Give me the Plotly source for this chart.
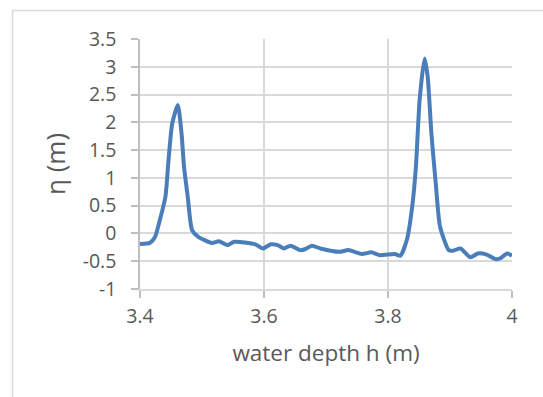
import plotly.graph_objects as go

depth_h = [3.400, 3.416, 3.424, 3.432, 3.441, 3.446, 3.452, 3.461, 3.467, 3.471,
           3.477, 3.484, 3.494, 3.516, 3.527, 3.541, 3.552, 3.586, 3.598, 3.611,
           3.622, 3.632, 3.643, 3.658, 3.667, 3.677, 3.691, 3.722, 3.736, 3.758,
           3.773, 3.786, 3.811, 3.820, 3.831, 3.839, 3.845, 3.851, 3.859, 3.864,
           3.870, 3.877, 3.884, 3.898, 3.905, 3.917, 3.933, 3.945, 3.959, 3.973,
           3.981, 3.992, 4.000]
eta = [-0.19, -0.17, -0.07, 0.24, 0.66, 1.32, 1.98, 2.31, 1.80, 1.20,
       0.66, 0.06, -0.06, -0.17, -0.14, -0.21, -0.15, -0.195, -0.27, -0.195,
       -0.21, -0.27, -0.22, -0.30, -0.28, -0.22, -0.27, -0.33, -0.30, -0.37,
       -0.34, -0.39, -0.37, -0.40, -0.09, 0.48, 1.20, 2.40, 3.15, 2.82,
       1.80, 0.90, 0.12, -0.30, -0.31, -0.27, -0.43, -0.36, -0.38, -0.46,
       -0.45, -0.36, -0.40]

x_ticks = [3.4, 3.6, 3.8, 4.0]
x_tick_labels = ["3.4", "3.6", "3.8", "4"]
y_ticks = [-1, -0.5, 0, 0.5, 1, 1.5, 2, 2.5, 3, 3.5]
y_tick_labels = ["-1", "-0.5", "0", "0.5", "1", "1.5", "2", "2.5", "3", "3.5"]

font_family = "'Open Sans', Lato, sans-serif"
grid = "#d9d9d9"
text_col = "#595959"

L, R, T, B = 140, 512, 39, 289
W, H = R - L, B - T

fig = go.Figure()
fig.add_trace(go.Scatter(
    x=depth_h, y=eta, mode="lines",
    line=dict(color="#4a7ebb", width=4, shape="spline", smoothing=0.6),
    showlegend=False, hoverinfo="skip",
))

fig.update_layout(
    width=543, height=397, autosize=False,
    margin=dict(l=L, r=543 - R, t=T, b=397 - B),
    paper_bgcolor="white", plot_bgcolor="white",
    font=dict(family=font_family, color=text_col),
    shapes=[dict(type="rect", xref="paper", yref="paper",
                 x0=(12.5 - L) / W, x1=(580 - L) / W,
                 y0=(B - 440) / H, y1=(B - 10.5) / H,
                 line=dict(color="#d9d9d9", width=1.5), fillcolor="rgba(0,0,0,0)",
                 layer="below")],
)
fig.update_xaxes(
    range=[3.4, 4.0], tickvals=x_ticks, ticktext=x_tick_labels,
    showgrid=True, gridcolor=grid, gridwidth=1.5,
    showline=True, linecolor=grid, linewidth=1.5,
    ticks="outside", ticklen=7, tickcolor="#bfbfbf", tickwidth=1.5,
    ticklabelstandoff=2,
    tickfont=dict(size=19.5, color=text_col), zeroline=False,
    title=dict(text="water depth h (m)", font=dict(size=22.5, color=text_col), standoff=17),
)
fig.update_yaxes(
    range=[-1, 3.5], tickvals=y_ticks, ticktext=y_tick_labels,
    showgrid=True, gridcolor=grid, gridwidth=1.5,
    showline=True, linecolor="#bfbfbf", linewidth=1.5,
    ticks="outside", ticklen=7, tickcolor="#bfbfbf", tickwidth=1.5,
    ticklabelstandoff=11,
    tickfont=dict(size=19.5, color=text_col), zeroline=False,
    title=dict(text="η (m)", font=dict(size=26, color=text_col), standoff=10),
)

fig.write_html("out.html")
